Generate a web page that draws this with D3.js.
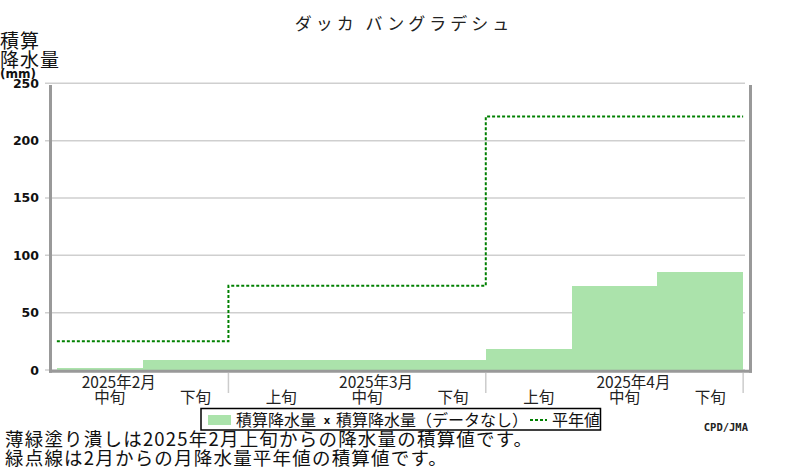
<!DOCTYPE html>
<html><head><meta charset="utf-8">
<script src="https://cdn.jsdelivr.net/npm/d3@7/dist/d3.min.js"></script>
<style>
html,body{margin:0;padding:0;background:#fff;}
svg{display:block;}
</style></head>
<body>
<svg id="chart" width="800" height="470"></svg>
<script>
const title = "ダッカ バングラデシュ";
const dekadLabels = ["中旬","下旬","上旬","中旬","下旬","上旬","中旬","下旬"];
const monthLabels = ["2025年2月","2025年3月","2025年4月"];
const monthStartDekad = [-1, 2, 5];
const precipCum = [2, 9, 9, 9, 9, 18.5, 73.5, 85.5];
const normalCum = [25, 73.5, 221];
const yTicks = [0, 50, 100, 150, 200, 250];
const legendLabels = ["積算降水量", "積算降水量（データなし）", "平年値"];
const notes = ["薄緑塗り潰しは2025年2月上旬からの降水量の積算値です。",
               "緑点線は2月からの月降水量平年値の積算値です。"];
const yTitle = ["積算", "降水量"];
const credit = "CPD/JMA";

const svg = d3.select("#chart");
const JP = "'Noto Sans CJK JP','Noto Sans',sans-serif";
const x = d3.scaleLinear().domain([-0.08, 8.08]).range([50, 750]);
const y = d3.scaleLinear().domain([0, 250]).range([370, 83.3]);

// gridlines
svg.append("g").selectAll("line").data(yTicks).join("line")
  .attr("x1", 45).attr("x2", 745)
  .attr("y1", d => y(d)).attr("y2", d => y(d))
  .attr("stroke", "#cfcfcf").attr("stroke-width", 1.5);

// y tick labels
svg.append("g").selectAll("text").data(yTicks).join("text")
  .attr("x", 39).attr("y", d => y(d)).attr("dy", "0.36em")
  .attr("text-anchor", "end")
  .attr("font-family", "'DejaVu Sans',sans-serif").attr("font-weight", "bold")
  .attr("font-size", 12.5).attr("fill", "#111")
  .text(d => d);

// bars
svg.append("g").selectAll("rect").data(precipCum).join("rect")
  .attr("x", (d, i) => x(i)).attr("width", (d, i) => x(i + 1) - x(i))
  .attr("y", d => y(d)).attr("height", d => y(0) - y(d))
  .attr("fill", "#abe3ab").attr("shape-rendering", "crispEdges");

// normal step line
const normPts = normalCum.map((v, i) => [Math.max(monthStartDekad[i], 0), v]);
normPts.push([monthStartDekad[normalCum.length - 1] + 3, normalCum[normalCum.length - 1]]);
svg.append("path")
  .attr("d", d3.line().x(d => x(d[0])).y(d => y(d[1])).curve(d3.curveStepAfter)(normPts))
  .attr("fill", "none").attr("stroke", "#008000").attr("stroke-width", 2)
  .attr("stroke-dasharray", "3,2");

// frame
const frame = svg.append("g").attr("stroke", "#999").attr("stroke-width", 3).attr("fill", "none");
frame.append("line").attr("x1", x.range()[0] + 0.5).attr("x2", x.range()[0] + 0.5).attr("y1", 85).attr("y2", y(0) + 2.8);
frame.append("line").attr("x1", x.range()[1] + 0.5).attr("x2", x.range()[1] + 0.5).attr("y1", 85).attr("y2", y(0) + 2.8);
frame.append("line").attr("x1", x.range()[0] - 1).attr("x2", x.range()[1] + 2).attr("y1", y(0) + 1.3).attr("y2", y(0) + 1.3);

// month separators
svg.append("g").selectAll("line").data(monthStartDekad.map(d => d + 3)).join("line")
  .attr("x1", d => x(d)).attr("x2", d => x(d))
  .attr("y1", 373).attr("y2", 393)
  .attr("stroke", "#cccccc").attr("stroke-width", 1.5);

// month labels
svg.append("g").selectAll("text").data(monthLabels).join("text")
  .attr("x", (d, i) => x(monthStartDekad[i] + 1.5) + 19).attr("y", 388)
  .attr("text-anchor", "middle").attr("font-family", JP).attr("font-size", 15.5)
  .attr("fill", "#222").text(d => d);

// dekad labels
svg.append("g").selectAll("text").data(dekadLabels).join("text")
  .attr("x", (d, i) => x(i + 0.5) + 10).attr("y", 403)
  .attr("text-anchor", "middle").attr("font-family", JP).attr("font-size", 15.5)
  .attr("fill", "#222").text(d => d);

// title
svg.append("text").attr("x", 404).attr("y", 30).attr("text-anchor", "middle")
  .attr("font-family", JP).attr("font-size", 17).attr("letter-spacing", 4)
  .attr("fill", "#222").text(title);

// y title
svg.append("g").selectAll("text").data(yTitle).join("text")
  .attr("x", 0).attr("y", (d, i) => 48 + i * 19)
  .attr("font-family", JP).attr("font-size", 19).attr("letter-spacing", 1)
  .attr("fill", "#111").text(d => d);
svg.append("text").attr("x", 18).attr("y", 78).attr("text-anchor", "middle")
  .attr("font-family", "'DejaVu Sans',sans-serif").attr("font-weight", "bold")
  .attr("font-size", 12).attr("fill", "#111").text("(mm)");

// legend
const lg = svg.append("g");
lg.append("rect").attr("x", 201).attr("y", 408.5).attr("width", 399.5).attr("height", 21.5)
  .attr("fill", "#fff").attr("stroke", "#000").attr("stroke-width", 1.5);
lg.append("rect").attr("x", 208).attr("y", 415).attr("width", 23).attr("height", 10).attr("fill", "#abe3ab");
lg.append("text").attr("x", 236).attr("y", 426).attr("font-family", JP).attr("font-size", 16)
  .attr("fill", "#111").text(legendLabels[0]);
lg.append("text").attr("x", 327).attr("y", 424).attr("text-anchor", "middle")
  .attr("font-family", "'DejaVu Sans',sans-serif").attr("font-weight", "bold").attr("font-size", 10)
  .attr("fill", "#111").text("x");
lg.append("text").attr("x", 336).attr("y", 426).attr("font-family", JP).attr("font-size", 16)
  .attr("fill", "#111").text(legendLabels[1]);
lg.append("line").attr("x1", 530).attr("x2", 547).attr("y1", 420).attr("y2", 420)
  .attr("stroke", "#008000").attr("stroke-width", 2).attr("stroke-dasharray", "3,2");
lg.append("text").attr("x", 552).attr("y", 426).attr("font-family", JP).attr("font-size", 16)
  .attr("fill", "#111").text(legendLabels[2]);

// credit
svg.append("text").attr("x", 748).attr("y", 431).attr("text-anchor", "end")
  .attr("font-family", "'DejaVu Sans Mono',monospace").attr("font-weight", "bold")
  .attr("font-size", 10.5).attr("fill", "#222").text(credit);

// notes
svg.append("g").selectAll("text").data(notes).join("text")
  .attr("x", 5).attr("y", (d, i) => 446 + i * 19)
  .attr("font-family", JP).attr("font-size", 18.5).attr("letter-spacing", 1.2)
  .attr("fill", "#111").text(d => d);
</script>
</body></html>
